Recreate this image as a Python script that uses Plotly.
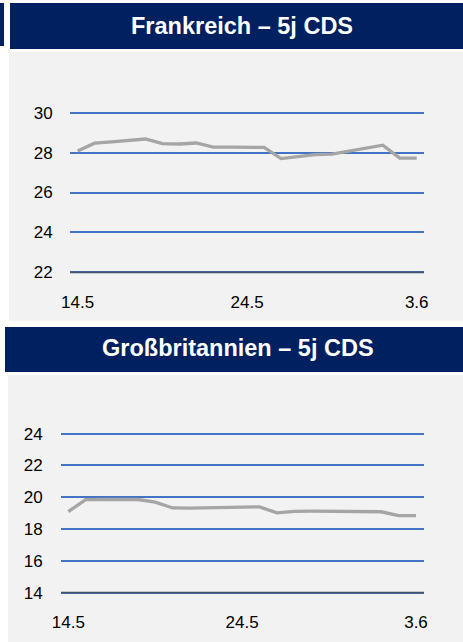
import plotly.graph_objects as go

W, H = 463, 642

dates = ["14.5", "15.5", "16.5", "17.5", "18.5", "19.5", "20.5", "21.5", "22.5", "23.5",
         "24.5", "25.5", "26.5", "27.5", "28.5", "29.5", "30.5", "31.5", "1.6", "2.6", "3.6"]
tick_dates = ["14.5", "24.5", "3.6"]

fr_cds = [28.08, 28.47, 28.54, 28.61, 28.68, 28.45, 28.43, 28.48, 28.27, 28.27,
          28.27, 28.26, 27.70, 27.80, 27.90, 27.92, 28.06, 28.21, 28.37, 27.72, 27.72]
gb_cds = [19.10, 19.85, 19.86, 19.86, 19.86, 19.69, 19.33, 19.32, 19.35, 19.37,
          19.40, 19.40, 19.02, 19.12, 19.13, 19.13, 19.12, 19.11, 19.09, 18.85, 18.85]

fr_title = "Frankreich – 5j CDS"
gb_title = "Großbritannien – 5j CDS"
fr_ticks = [22, 24, 26, 28, 30]
gb_ticks = [14, 16, 18, 20, 22, 24]

NAVY = "#002060"
BG = "#F2F2F2"
GRID = "#4472C4"
BASE = "#44546A"
LINE = "#A5A5A5"
FONT = "Liberation Sans, Arial, sans-serif"


def px(x):
    return x / W


def py(y):
    return 1 - y / H


fig = go.Figure()
fig.add_trace(go.Scatter(x=dates, y=fr_cds, mode="lines", xaxis="x", yaxis="y",
                         line=dict(color=LINE, width=3.3), showlegend=False, hoverinfo="skip"))
fig.add_trace(go.Scatter(x=dates, y=gb_cds, mode="lines", xaxis="x2", yaxis="y2",
                         line=dict(color=LINE, width=3.3), showlegend=False, hoverinfo="skip"))

shapes = [
    # top panel background & header
    dict(type="rect", xref="paper", yref="paper", x0=px(9), x1=px(463), y0=py(321), y1=py(52),
         fillcolor=BG, line=dict(width=0), layer="below"),
    dict(type="rect", xref="paper", yref="paper", x0=px(10), x1=px(463), y0=py(49), y1=py(3),
         fillcolor=NAVY, line=dict(width=0), layer="below"),
    dict(type="rect", xref="paper", yref="paper", x0=px(0), x1=px(4), y0=py(46), y1=py(3),
         fillcolor=NAVY, line=dict(width=0), layer="below"),
    # bottom panel background & header
    dict(type="rect", xref="paper", yref="paper", x0=px(8), x1=px(463), y0=py(642), y1=py(375),
         fillcolor=BG, line=dict(width=0), layer="below"),
    dict(type="rect", xref="paper", yref="paper", x0=px(5), x1=px(463), y0=py(372), y1=py(327),
         fillcolor=NAVY, line=dict(width=0), layer="below"),
    # baselines
    dict(type="line", xref="x domain", yref="y", x0=0, x1=1, y0=fr_ticks[0], y1=fr_ticks[0],
         line=dict(color=BASE, width=1.8), layer="above"),
    dict(type="line", xref="x2 domain", yref="y2", x0=0, x1=1, y0=gb_ticks[0], y1=gb_ticks[0],
         line=dict(color=BASE, width=1.8), layer="above"),
]

annotations = [
    dict(text=f"<b>{fr_title}</b>", xref="paper", yref="paper", x=px(242), y=py(26),
         xanchor="center", yanchor="middle", showarrow=False,
         font=dict(family=FONT, size=23.5, color="white")),
    dict(text=f"<b>{gb_title}</b>", xref="paper", yref="paper", x=px(238), y=py(348),
         xanchor="center", yanchor="middle", showarrow=False,
         font=dict(family=FONT, size=23.5, color="white")),
]

tick_font = dict(family=FONT, size=17, color="#000000")

fig.update_layout(
    width=W, height=H,
    margin=dict(l=0, r=0, t=0, b=0, autoexpand=False),
    paper_bgcolor="white",
    plot_bgcolor="rgba(0,0,0,0)",
    shapes=shapes,
    annotations=annotations,
    xaxis=dict(domain=[px(70), px(424)], type="category", categoryorder="array",
               categoryarray=dates, range=[-0.45, 20.43], automargin=False,
               tickmode="array", tickvals=tick_dates, ticktext=tick_dates,
               showgrid=False, zeroline=False, showline=False,
               ticks="outside", ticklen=12, tickcolor="rgba(0,0,0,0)",
               tickfont=tick_font, anchor="y"),
    yaxis=dict(domain=[py(274.3), py(110.7)], range=[21.9, 30.1], automargin=False,
               tickmode="array", tickvals=fr_ticks,
               showgrid=True, gridcolor=GRID, gridwidth=1.5, zeroline=False, showline=False,
               ticks="outside", ticklen=13, tickcolor="rgba(0,0,0,0)",
               tickfont=tick_font, anchor="x"),
    xaxis2=dict(domain=[px(61), px(424)], type="category", categoryorder="array",
                categoryarray=dates, range=[-0.42, 20.46], automargin=False,
                tickmode="array", tickvals=tick_dates, ticktext=tick_dates,
                showgrid=False, zeroline=False, showline=False,
                ticks="outside", ticklen=12, tickcolor="rgba(0,0,0,0)",
                tickfont=tick_font, anchor="y2"),
    yaxis2=dict(domain=[py(594.3), py(432.1)], range=[13.9, 24.1], automargin=False,
                tickmode="array", tickvals=gb_ticks,
                showgrid=True, gridcolor=GRID, gridwidth=1.5, zeroline=False, showline=False,
                ticks="outside", ticklen=14, tickcolor="rgba(0,0,0,0)",
                tickfont=tick_font, anchor="x2"),
)

post = ("document.documentElement.style.margin='0';"
        "document.body.style.margin='0';"
        "document.body.style.overflow='hidden';"
        "var d=document.getElementById('{plot_id}');"
        "d.style.position='fixed';d.style.left='0px';d.style.top='0px';")

fig.write_html("out.html", post_script=post, config={"displayModeBar": False})
